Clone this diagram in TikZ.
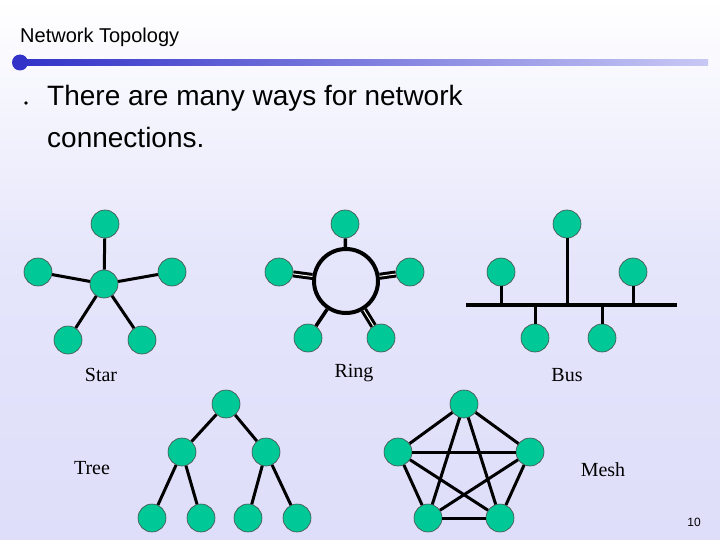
\documentclass[tikz,border=0pt]{standalone}
\usepackage{fontspec}
\setmainfont{Liberation Serif}
\newfontfamily\hd{Liberation Sans}
\begin{document}
\begin{tikzpicture}[x=1pt,y=-1pt,
  nd/.style={circle,draw=black!70,line width=0.6pt,fill=nodegreen,minimum size=28pt,inner sep=0pt},
  ln/.style={line width=3.5pt,black},
  lbl/.style={font=\fontsize{20}{24}\selectfont}]
\definecolor{nodegreen}{RGB}{0,200,150}
\definecolor{bg}{RGB}{222,222,250}
\definecolor{dkb}{RGB}{50,50,200}
\definecolor{ltb}{RGB}{200,200,245}
\shade[top color=white,bottom color=bg,middle color=bg!80] (0,0) rectangle (720,540);
\useasboundingbox (0,0) rectangle (720,540);
\node[anchor=west,font=\hd\fontsize{20}{24}\selectfont,inner sep=0pt] (title) at (20,37) {Network Topology};
\shade[left color=dkb,right color=ltb] (20,59.5) rectangle (708,65.5);
\fill[dkb] (20,62.5) circle (8);
\fill[black] (26,103) circle (1.8);
\node[anchor=north west,font=\hd\fontsize{28}{42}\selectfont,align=left,inner sep=0pt] (txt) at (47,85) {There are many ways for network\\connections.};
% Star
\node[nd] (sc) at (104,284) {};
\node[nd] (s1) at (105,224) {};
\node[nd] (s2) at (38,272) {};
\node[nd] (s3) at (172,272) {};
\node[nd] (s4) at (68,340) {};
\node[nd] (s5) at (142,340) {};
\foreach \n in {s1,s2,s3,s4,s5} \draw[ln,line width=3pt] (sc) -- (\n);
\node[lbl] (lstar) at (101,375) {Star};
% Ring
\node[circle,draw,line width=4pt,minimum size=64pt,inner sep=0pt] (rc) at (346,281) {};
\node[nd] (r1) at (345,224) {};
\node[nd] (r2) at (279,272) {};
\node[nd] (r3) at (410,272) {};
\node[nd] (r4) at (308,338) {};
\node[nd] (r5) at (381,338) {};
\draw[ln] (rc) -- (r1);
\draw[ln] (rc) -- (r4);
\foreach \n in {r2,r3,r5} \draw[line width=3pt,black,double=white,double distance=1pt] (rc) -- (\n);
\node[lbl] (lring) at (354,373) {Ring};
% Bus
\coordinate (b0) at (466,305);
\coordinate (b9) at (677,305);
\draw[ln] (b0) -- (b9);
\node[nd] (b1) at (567,224) {};
\node[nd] (b2) at (501,272) {};
\node[nd] (b3) at (633,272) {};
\node[nd] (b4) at (535,338) {};
\node[nd] (b5) at (602,338) {};
\foreach \n in {b1,b2,b3,b4,b5} \draw[ln,line width=3pt] (\n) -- (\n |- b0);
\node[lbl] (lbus) at (567,375) {Bus};
% Tree
\node[nd] (t0) at (226,404) {};
\node[nd] (t1) at (182,452) {};
\node[nd] (t2) at (266,452) {};
\node[nd] (t3) at (152,518) {};
\node[nd] (t4) at (201,518) {};
\node[nd] (t5) at (248,518) {};
\node[nd] (t6) at (297,518) {};
\foreach \a/\b in {t0/t1,t0/t2,t1/t3,t1/t4,t2/t5,t2/t6} \draw[ln,line width=3pt] (\a) -- (\b);
\node[lbl] (ltree) at (92,468) {Tree};
% Mesh
\node[nd] (m1) at (464,404) {};
\node[nd] (m2) at (398,452) {};
\node[nd] (m3) at (530,452) {};
\node[nd] (m4) at (428,518) {};
\node[nd] (m5) at (500,518) {};
\foreach \a/\b in {m1/m2,m1/m3,m1/m4,m1/m5,m2/m3,m2/m4,m2/m5,m3/m4,m3/m5,m4/m5}
  \draw[ln,line width=3pt] (\a) -- (\b);
\node[lbl] (lmesh) at (603,470) {Mesh};
\node[font=\hd\fontsize{12}{14}\selectfont] (pg) at (694,522) {10};
\end{tikzpicture}
\end{document}
